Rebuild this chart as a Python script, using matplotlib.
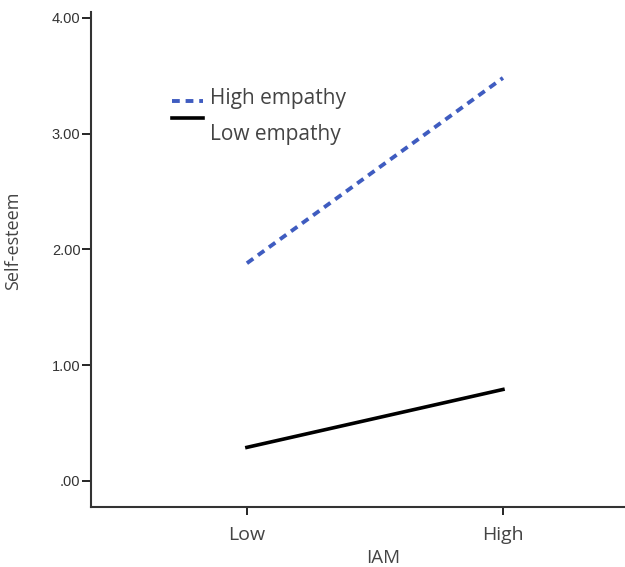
import matplotlib.pyplot as plt

# data
iam_levels = ['Low', 'High']
high_empathy = [1.88, 3.48]
low_empathy = [0.29, 0.79]
y_ticks = [0, 1, 2, 3, 4]
y_tick_labels = ['.00', '1.00', '2.00', '3.00', '4.00']

blue = '#3f5cc0'
grey = '#444444'

fig = plt.figure(figsize=(6.25, 5.67), dpi=100)
# the x axis runs past the right edge of the picture, as in the original
ax = fig.add_axes([0.1456, 0.106, 0.9344, 0.873])

x = range(len(iam_levels))
ax.plot(x, high_empathy, color=blue, lw=2.8, linestyle=(0, (2.0, 1.5)))
ax.plot(x, low_empathy, color='black', lw=2.6)

ax.set_xlim(-0.609, 1.672)
ax.set_ylim(-0.224, 4.05)

ax.set_yticks(y_ticks)
ax.set_yticklabels(y_tick_labels, fontfamily='Liberation Sans', fontsize=10.5, color='#333333')
ax.set_xticks(list(x))
ax.set_xticklabels(iam_levels, fontfamily='Open Sans', fontsize=14, color=grey)

ax.tick_params(axis='y', length=6.5, width=1.2, pad=1)
ax.tick_params(axis='x', length=6, width=1.2, pad=8)

for side in ['top', 'right']:
    ax.spines[side].set_visible(False)
for side in ['left', 'bottom']:
    ax.spines[side].set_linewidth(1.5)
    ax.spines[side].set_color('#333333')

ax.set_xlabel('IAM', fontfamily='Open Sans', fontsize=13.5, color=grey, labelpad=3)
ax.set_ylabel('Self-esteem', fontfamily='Open Sans', fontsize=13, color=grey)
ax.yaxis.set_label_coords(-0.118, 0.537)

# hand-made legend: the "Low empathy" text sits below its line in the original
ax.plot([0.1387, 0.1918], [0.820, 0.820], transform=ax.transAxes, color=blue,
        lw=2.8, linestyle=(0, (2.0, 1.5)))
ax.plot([0.1387, 0.1918], [0.786, 0.786], transform=ax.transAxes, color='black', lw=2.6)
ax.text(0.2038, 0.826, 'High empathy', transform=ax.transAxes, va='center',
        fontfamily='Open Sans', fontsize=15, color=grey)
ax.text(0.2038, 0.752, 'Low empathy', transform=ax.transAxes, va='center',
        fontfamily='Open Sans', fontsize=15, color=grey)

fig.savefig('out.png', dpi=100)
